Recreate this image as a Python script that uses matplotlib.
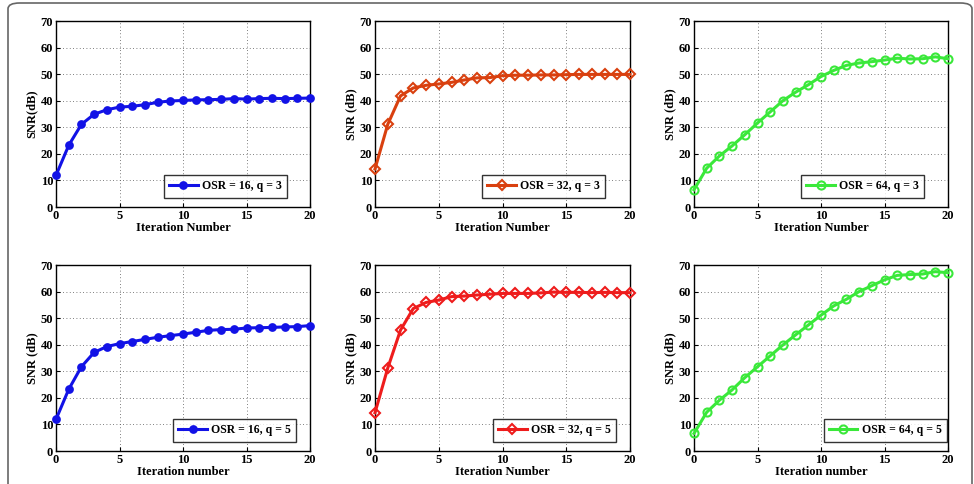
import numpy as np
import matplotlib.pyplot as plt
from matplotlib.patches import FancyBboxPatch

# iteration index shared by all panels
iters = np.arange(21)

# SNR values (dB)
snr_16_q3 = [11.9, 23.2, 31.1, 34.9, 36.6, 37.6, 37.9, 38.5, 39.4, 39.9, 40.1,
             40.3, 40.4, 40.5, 40.8, 40.6, 40.8, 40.9, 40.8, 40.9, 41.0]
snr_32_q3 = [14.3, 31.1, 41.8, 44.8, 45.8, 46.3, 46.9, 47.8, 48.6, 48.7, 49.4,
             49.6, 49.6, 49.7, 49.7, 49.8, 49.9, 49.9, 49.9, 49.9, 49.9]
snr_64_q3 = [6.5, 14.6, 19.2, 23.0, 27.2, 31.6, 35.8, 40.0, 43.2, 46.0, 49.1,
             51.4, 53.3, 54.2, 54.7, 55.3, 56.0, 55.7, 55.8, 56.5, 55.8]
snr_16_q5 = [11.9, 23.2, 31.7, 37.1, 39.3, 40.4, 41.2, 42.0, 42.8, 43.4, 44.0,
             44.7, 45.4, 45.7, 45.8, 46.3, 46.4, 46.5, 46.7, 46.8, 47.2]
snr_32_q5 = [14.4, 31.2, 45.5, 53.6, 55.9, 56.8, 58.1, 58.3, 58.7, 59.0, 59.3,
             59.3, 59.3, 59.5, 59.8, 59.7, 59.7, 59.6, 59.7, 59.6, 59.6]
snr_64_q5 = [6.6, 14.6, 19.1, 23.0, 27.6, 31.7, 35.8, 39.9, 43.7, 47.4, 51.1,
             54.6, 57.1, 60.0, 62.2, 64.4, 66.1, 66.4, 66.6, 67.5, 67.1]

labels = ["OSR = 16, q = 3", "OSR = 32, q = 3", "OSR = 64, q = 3",
          "OSR = 16, q = 5", "OSR = 32, q = 5", "OSR = 64, q = 5"]
ylabels = ["SNR(dB)", "SNR (dB)", "SNR (dB)", "SNR (dB)", "SNR (dB)", "SNR (dB)"]
xlabels = ["Iteration Number", "Iteration Number", "Iteration Number",
           "Iteration number", "Iteration Number", "Iteration number"]

series = [snr_16_q3, snr_32_q3, snr_64_q3, snr_16_q5, snr_32_q5, snr_64_q5]
colors = ["#1212e6", "#d9400f", "#3ae83a", "#1212e6", "#ee1c1c", "#3ae83a"]
markers = ["o", "D", "o", "o", "D", "o"]
faces = ["#1212e6", "none", "none", "#1212e6", "none", "none"]
msizes = [4.8, 5.2, 5.8, 4.8, 5.2, 5.8]
# right edge of each legend box, as a fraction of the axes width
leg_right = [0.909, 0.902, 0.906, 0.945, 0.945, 0.995]

plt.rcParams['font.family'] = ['Liberation Serif', 'DejaVu Serif']
plt.rcParams['font.weight'] = 'bold'

fig = plt.figure(figsize=(9.74, 4.84), dpi=100)
W, H = 974.0, 484.0

# rounded frame around the figure
frame = FancyBboxPatch((8 / W, -20 / H), (972 - 8) / W, (484 - 3 + 20) / H,
                       boxstyle="round,pad=0,rounding_size=0.012",
                       transform=fig.transFigure, fill=False,
                       edgecolor="#666666", linewidth=1.2)
fig.patches.append(frame)

lefts = [56, 375, 694]
widths = [254, 255, 254]
tops = [21, 265]
height = 186

for i in range(6):
    r, c = divmod(i, 3)
    ax = fig.add_axes([lefts[c] / W, 1 - (tops[r] + height) / H,
                       widths[c] / W, height / H])
    ax.plot(iters, series[i], color=colors[i], lw=2.2, marker=markers[i],
            ms=msizes[i], mfc=faces[i], mec=colors[i], mew=1.5,
            label=labels[i], clip_on=False, zorder=3)
    ax.set_xlim(0, 20)
    ax.set_ylim(0, 70)
    ax.set_xticks([0, 5, 10, 15, 20])
    ax.set_yticks(range(0, 71, 10))
    ax.grid(True, linestyle=(0, (1, 3)), color="#555555", linewidth=0.6)
    ax.tick_params(direction="in", length=3, width=0.8, labelsize=9, pad=2)
    for s in ax.spines.values():
        s.set_linewidth(1.0)
        s.set_zorder(2.5)
    ax.set_xlabel(xlabels[i], fontsize=9, fontweight="bold", labelpad=0)
    ax.set_ylabel(ylabels[i], fontsize=9, fontweight="bold", labelpad=2)
    leg = ax.legend(loc="lower right", bbox_to_anchor=(leg_right[i], 0.05),
                    borderaxespad=0, fontsize=8.5, frameon=True,
                    fancybox=False, handlelength=2.4, borderpad=0.45,
                    handletextpad=0.35)
    leg.get_frame().set_edgecolor("black")
    leg.get_frame().set_linewidth(1.0)
    leg.set_zorder(4)
    for t in leg.get_texts():
        t.set_fontweight("bold")

fig.savefig("out.png", dpi=100)
